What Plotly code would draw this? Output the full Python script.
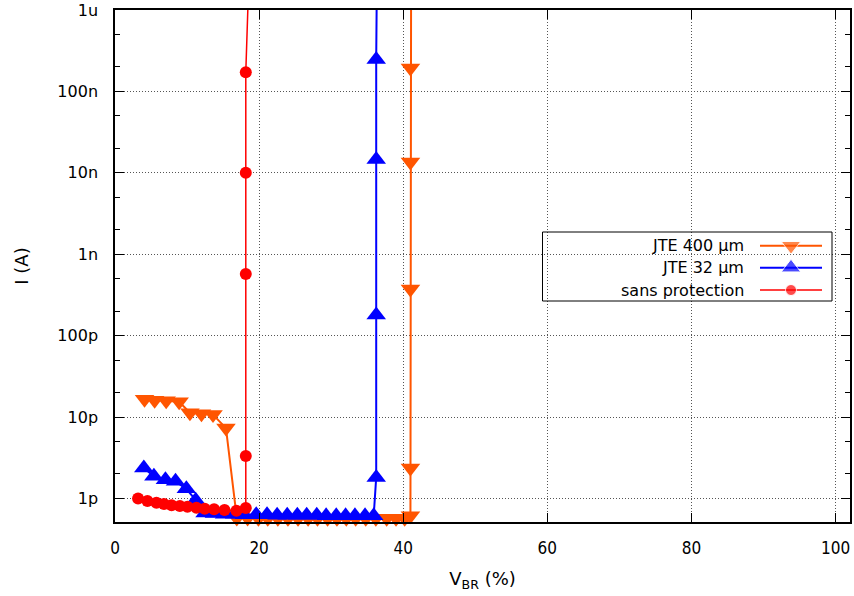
import plotly.graph_objects as go

# ---------------- data ----------------
# JTE 400 um (orange, down triangles)
x_jte400 = [4.1, 5.5, 7.1, 8.9, 10.4, 12.0, 13.6, 15.4,
            16.9, 18.4, 19.9, 21.2, 22.6, 24.0, 25.4, 26.8, 28.1, 29.5,
            30.8, 32.1, 33.4, 34.8, 36.2, 37.7, 39.0, 40.2,
            41.0, 41.0, 41.0, 41.0, 41.0, 41.1]
i_jte400 = [16.5e-12, 16.1e-12, 15.8e-12, 15.4e-12, 11.3e-12, 11.0e-12, 10.7e-12, 7.3e-12,
            0.575e-12, 0.575e-12, 0.57e-12, 0.57e-12, 0.57e-12, 0.57e-12, 0.57e-12, 0.57e-12,
            0.57e-12, 0.57e-12, 0.57e-12, 0.57e-12, 0.57e-12, 0.57e-12, 0.57e-12, 0.57e-12,
            0.57e-12, 0.57e-12,
            0.61e-12, 2.36e-12, 0.373e-9, 13.6e-9, 194e-9, 1e-5]

# JTE 32 um (blue, up triangles)
x_jte32 = [4.0, 5.4, 7.0, 8.4, 9.9, 11.2, 12.5, 13.8, 15.2, 16.6, 17.9, 19.6,
           21.1, 22.5, 23.9, 25.3, 26.6, 28.0, 29.3, 30.7, 32.0, 33.3, 34.7, 35.9,
           36.25, 36.25, 36.25, 36.25, 36.4]
i_jte32 = [2.36e-12, 1.87e-12, 1.70e-12, 1.62e-12, 1.31e-12, 0.95e-12, 0.66e-12, 0.65e-12,
           0.64e-12, 0.64e-12, 0.63e-12, 0.63e-12, 0.63e-12, 0.62e-12, 0.62e-12, 0.62e-12,
           0.62e-12, 0.62e-12, 0.61e-12, 0.61e-12, 0.61e-12, 0.61e-12, 0.61e-12, 0.61e-12,
           1.81e-12, 0.179e-9, 14.6e-9, 247e-9, 1e-5]

# sans protection (red, circles)
x_sans = [3.2, 4.5, 5.75, 6.8, 7.85, 9.0, 10.05, 11.3, 12.45, 13.75, 15.2, 16.85,
          18.15, 18.15, 18.15, 18.15, 18.15, 18.8]
i_sans = [1.00e-12, 0.93e-12, 0.885e-12, 0.853e-12, 0.822e-12, 0.807e-12, 0.79e-12,
          0.768e-12, 0.748e-12, 0.735e-12, 0.72e-12, 0.706e-12,
          0.76e-12, 3.32e-12, 0.571e-9, 1.0e-8, 1.72e-7, 1e-5]

series_names = ["JTE 400 \u00b5m", "JTE 32 \u00b5m", "sans protection"]

x_ticks = [0, 20, 40, 60, 80, 100]
y_ticks = [1e-12, 1e-11, 1e-10, 1e-9, 1e-8, 1e-7, 1e-6]
y_ticktext = ["1p", "10p", "100p", "1n", "10n", "100n", "1u"]
y_minor = [m * d for d in [1e-13, 1e-12, 1e-11, 1e-10, 1e-9, 1e-8, 1e-7] for m in (2, 5)]

# ---------------- styles ----------------
ORANGE = "#ff5500"
BLUE = "#0000ff"
RED = "#ff0000"
FONT = "DejaVu Sans, Liberation Sans, sans-serif"

fig = go.Figure()

fig.add_trace(go.Scatter(
    x=x_jte400, y=i_jte400, mode="lines+markers", name=series_names[0],
    line=dict(color=ORANGE, width=2),
    marker=dict(symbol="triangle-down", size=17, color=ORANGE),
    cliponaxis=False, showlegend=False))
fig.add_trace(go.Scatter(
    x=x_jte32, y=i_jte32, mode="lines+markers", name=series_names[1],
    line=dict(color=BLUE, width=2),
    marker=dict(symbol="triangle-up", size=17, color=BLUE),
    cliponaxis=False, showlegend=False))
fig.add_trace(go.Scatter(
    x=x_sans, y=i_sans, mode="lines+markers", name=series_names[2],
    line=dict(color=RED, width=1.5),
    marker=dict(symbol="circle", size=12, color=RED),
    cliponaxis=False, showlegend=False))

# ---------------- layout geometry (body margin removed via post_script) ----------------
W, H = 854, 596
plot_left, plot_right, plot_top, plot_bottom = 115, 850, 10, 522   # screenshot pixels
L, T, R, B = plot_left, plot_top, W - plot_right, H - plot_bottom
pw, ph = W - L - R, H - T - B

def px2u(px):
    return (px - plot_left) / pw

def py2v(py):
    return (plot_bottom - py) / ph

# ---------------- custom gnuplot-style legend ----------------
row_y = [245.7, 267.7, 290.0]
key_x0, key_x1, key_xm = 760, 822, 791
colors = [ORANGE, BLUE, RED]
symbols = ["triangle-down", "triangle-up", "circle"]
msizes = [17, 17, 11]
lwidths = [2, 2, 1.5]

for k in range(3):
    v = py2v(row_y[k])
    fig.add_trace(go.Scatter(
        x=[px2u(key_x0), px2u(key_xm), px2u(key_x1)], y=[v, v, v],
        xaxis="x2", yaxis="y2", mode="lines+markers",
        line=dict(color=colors[k], width=lwidths[k]),
        marker=dict(symbol=symbols[k], size=[0, msizes[k], 0], color=colors[k]),
        showlegend=False, hoverinfo="skip", cliponaxis=False))
    fig.add_annotation(
        x=px2u(746), y=v, xref="paper", yref="paper",
        text=series_names[k], showarrow=False, xanchor="right", yanchor="middle",
        font=dict(family=FONT, size=16, color="black"))

fig.add_shape(type="rect", xref="paper", yref="paper",
              x0=px2u(542.5), x1=px2u(832), y0=py2v(301), y1=py2v(232),
              line=dict(color="black", width=1), fillcolor="rgba(0,0,0,0)")

axis_common = dict(
    showline=True, linecolor="black", linewidth=1.5, mirror="ticks",
    ticks="inside", ticklen=9, tickwidth=1, tickcolor="black",
    showgrid=True, gridcolor="#555555", gridwidth=1, griddash="1px,2px",
    zeroline=False, automargin=False, ticklabeloverflow="allow")

fig.update_layout(
    width=W, height=H,
    margin=dict(l=L, r=R, t=T, b=B),
    paper_bgcolor="white", plot_bgcolor="white",
    font=dict(family=FONT, size=16, color="black"),
    xaxis=dict(
        range=[0, 102], tickmode="array", tickvals=x_ticks,
        tickfont=dict(family="DejaVu Sans Condensed, Liberation Sans Narrow, DejaVu Sans", size=17),
        ticklabelstandoff=10,
        title=dict(text="V<sub>BR</sub> (%)", font=dict(family=FONT, size=18), standoff=15),
        **axis_common),
    yaxis=dict(
        type="log", range=[-12.29, -6], tickmode="array",
        tickvals=y_ticks, ticktext=y_ticktext,
        tickfont=dict(family=FONT, size=16),
        ticklabelstandoff=12,
        minor=dict(tickmode="array", tickvals=y_minor, ticks="inside", ticklen=5,
                   tickcolor="black", showgrid=False),
        title=dict(text="I (A)", font=dict(family=FONT, size=18), standoff=24),
        **axis_common),
    xaxis2=dict(overlaying="x", range=[0, 1], visible=False, fixedrange=True),
    yaxis2=dict(overlaying="y", range=[0, 1], visible=False, fixedrange=True),
)

fig.write_html("out.html",
               config={"displayModeBar": False},
               post_script="document.body.style.margin='0px';document.body.style.overflow='hidden';")
